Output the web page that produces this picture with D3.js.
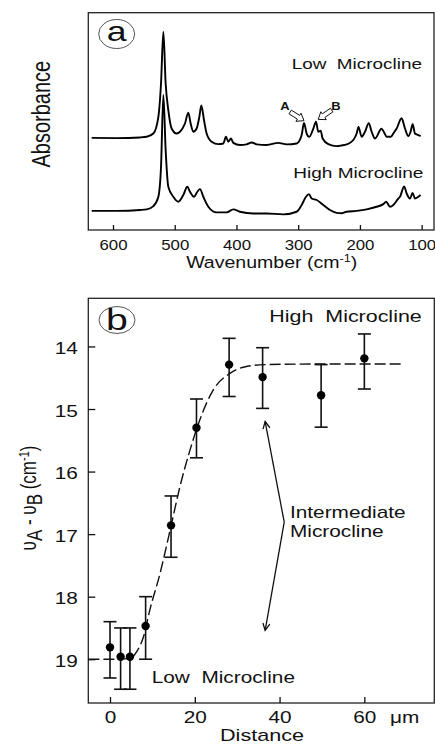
<!DOCTYPE html>
<html>
<head>
<meta charset="utf-8">
<script src="https://cdn.jsdelivr.net/npm/d3@7"></script>
<style>
  body { margin: 0; background: #fff; }
  svg { display: block; font-family: "Liberation Sans", Arial, sans-serif; }
  text { fill: #111; }
</style>
</head>
<body>
<div id="chart"></div>
<script>
// ---- data ----
// panel a: Raman spectra (wavenumber in cm-1, absorbance in arbitrary units)
var lowWn = [634.5, 594, 556, 545.4, 534.6, 526.5, 522.2, 518.4, 514.7, 510.4, 505, 496.9, 491.5, 483.4, 478, 474.2, 469.9, 464.5, 460.1, 456.9, 452.6, 448.3, 440.2, 429.4, 421.3, 417, 413.2, 408.9, 405.1, 394.3, 383.5, 375.4, 367.3, 351.1, 332.2, 318.7, 302.5, 294.4, 290.6, 286.3, 282, 275.5, 271.2, 267.4, 263.6, 260.4, 251.2, 237.7, 229.6, 221.5, 210.7, 205.3, 202.3, 197.2, 191.8, 185.6, 181, 175.6, 165, 161, 156.7, 149.7, 145.9, 140.5, 132.5, 127, 121.6, 117.9, 114.6, 110.8, 105.4, 101.7];
var lowAbs = [42.4, 42.3, 42.6, 42.9, 44.4, 52.1, 67.4, 91.2, 67.4, 55.2, 46.7, 44.4, 45.2, 49.0, 54.0, 49.0, 45.2, 46.7, 52.1, 57.3, 50.6, 44.4, 40.6, 39.5, 39.8, 42.9, 40.6, 42.1, 40.1, 39.1, 39.4, 40.3, 39.4, 39.1, 40.1, 39.4, 39.8, 43.7, 49.3, 44.4, 42.9, 46.7, 49.8, 45.2, 45.7, 42.1, 39.5, 38.6, 38.9, 39.4, 41.4, 44.4, 47.4, 42.9, 45.2, 49.2, 45.2, 42.1, 46.6, 45.0, 42.9, 42.9, 44.4, 46.7, 51.4, 46.7, 43.2, 45.2, 48.7, 44.4, 43.7, 43.2];
var highWn = [634.5, 594, 556.2, 545.4, 534.6, 526.5, 522.2, 518.4, 514.7, 510.4, 502.3, 494.2, 486.1, 479.6, 475.3, 468.8, 463.4, 459.1, 453.7, 445.6, 432.1, 415.9, 405.1, 394.3, 372.7, 351.1, 324.1, 302.5, 294.4, 287.4, 282.5, 278.2, 270.1, 259.3, 248.5, 237.7, 229.6, 221.5, 205.3, 189.1, 172.9, 162.1, 157.5, 151.3, 145.9, 137.8, 135.1, 128.4, 124.3, 118.9, 114.6, 110.8, 105.4, 101.7];
var highAbs = [8.8, 8.8, 9.2, 9.5, 11.0, 15.3, 29.1, 62.1, 36.8, 19.9, 15.3, 13.0, 16.1, 19.9, 17.6, 15.3, 17.6, 18.8, 15.3, 10.7, 8.1, 8.1, 9.5, 8.4, 7.6, 7.6, 7.2, 8.4, 11.5, 15.3, 16.5, 14.5, 13.8, 11.5, 9.2, 7.9, 7.7, 8.4, 8.8, 9.5, 10.7, 11.9, 13.0, 10.7, 11.5, 14.5, 15.3, 20.0, 16.8, 14.5, 17.1, 14.5, 15.3, 16.1];
var wnTicks = [600, 500, 400, 300, 200, 100];

// panel b: splitting of bands A and B vs distance
var distance = [0, 2.5, 4.7, 8.4, 14.4, 20.4, 28.1, 36, 49.8, 60];
var splitting = [18.81, 18.96, 18.96, 18.47, 16.86, 15.3, 14.29, 14.49, 14.78, 14.19];
var errTop = [18.4, 18.5, 18.5, 18.0, 16.39, 14.84, 13.87, 14.02, 14.29, 13.8];
var errBottom = [19.3, 19.48, 19.48, 19.0, 17.37, 15.78, 14.8, 14.99, 15.29, 14.68];
var fitX = [-5.1, 0, 4.7, 6.3, 7.9, 9.4, 11.8, 14.2, 16.5, 18.9, 21.2, 24.4, 28.3, 32.2, 36.9, 50, 69];
var fitY = [19.0, 19.0, 18.99, 18.88, 18.64, 18.21, 17.63, 16.93, 16.24, 15.65, 15.17, 14.69, 14.43, 14.32, 14.29, 14.28, 14.28];
var distTicks = [0, 20, 40, 60];
var splitTicks = [14, 15, 16, 17, 18, 19];

var svgWidth = 435;
var svgHeight = 745;

var svg = d3.select("#chart")
  .append("svg")
  .attr("width", svgWidth)
  .attr("height", svgHeight);

// text helper: the original is stretched sideways, so text gets a scale too
function label(g, x, y, str, size, anchor, sx) {
  return g.append("text")
    .attr("transform", `translate(${x},${y}) scale(${sx},1)`)
    .attr("text-anchor", anchor)
    .style("font-size", size + "px")
    .style("white-space", "pre")
    .text(str);
}

// ================= panel a =================
var a = { left: 88.3, right: 434, top: 12.7, bottom: 230 };

var xA = d3.scaleLinear().domain([640, 80]).range([a.left, a.right]);
var yA = d3.scaleLinear().domain([0, 100]).range([a.bottom, a.top]);

var gA = svg.append("g");

gA.append("rect")
  .attr("x", a.left).attr("y", a.top)
  .attr("width", a.right - a.left).attr("height", a.bottom - a.top)
  .attr("fill", "none").attr("stroke", "#222").attr("stroke-width", 1.3);

var axisA = d3.axisBottom(xA).tickValues(wnTicks).tickFormat(d3.format("d"))
  .tickSizeInner(-5).tickSizeOuter(0).tickPadding(10);
var axA = gA.append("g")
  .attr("transform", `translate(0,${a.bottom})`)
  .call(axisA);
axA.select(".domain").remove();
axA.selectAll("line").attr("stroke", "#111").attr("stroke-width", 1.3);
axA.selectAll("text")
  .attr("transform", "scale(1.2,1)")
  .style("font-size", "14px")
  .style("font-family", "'Liberation Sans', Arial, sans-serif")
  .attr("fill", "#111");

var lineA = d3.line()
  .x(d => xA(d[0]))
  .y(d => yA(d[1]))
  .curve(d3.curveMonotoneX);

gA.append("path")
  .datum(lowWn.map((w, i) => [w, lowAbs[i]]))
  .attr("d", lineA)
  .attr("fill", "none").attr("stroke", "#000").attr("stroke-width", 1.9);

gA.append("path")
  .datum(highWn.map((w, i) => [w, highAbs[i]]))
  .attr("d", lineA)
  .attr("fill", "none").attr("stroke", "#000").attr("stroke-width", 1.9);

// outlined block arrows pointing at bands A and B
function blockArrow(g, tail, tip) {
  var tx = xA(tail[0]), ty = yA(tail[1]);
  var px = xA(tip[0]), py = yA(tip[1]);
  var len = Math.hypot(px - tx, py - ty);
  var ux = (px - tx) / len, uy = (py - ty) / len;
  var nx = -uy, ny = ux;
  var hx = px - ux * 6.5, hy = py - uy * 6.5;
  var pts = [
    [tx + nx * 2.2, ty + ny * 2.2], [hx + nx * 2.2, hy + ny * 2.2], [hx + nx * 4.8, hy + ny * 4.8],
    [px, py],
    [hx - nx * 4.8, hy - ny * 4.8], [hx - nx * 2.2, hy - ny * 2.2], [tx - nx * 2.2, ty - ny * 2.2]
  ];
  g.append("polygon")
    .attr("points", pts.map(p => p.join(",")).join(" "))
    .attr("fill", "#fff").attr("stroke", "#111").attr("stroke-width", 1);
}
blockArrow(gA, [313, 54.3], [290.6, 50.3]);
blockArrow(gA, [245.8, 55.2], [267.5, 50.9]);
label(gA, xA(321.4), yA(55.2), "A", 10, "middle", 1.3).style("font-weight", "bold");
label(gA, xA(238.8), yA(55.2), "B", 10, "middle", 1.3).style("font-weight", "bold");

label(gA, 291.7, 69.3, "Low  Microcline", 14, "start", 1.35);
label(gA, 293.3, 178.3, "High Microcline", 14, "start", 1.36);

// panel letter
gA.append("ellipse")
  .attr("cx", 116.7).attr("cy", 34).attr("rx", 18).attr("ry", 14.5)
  .attr("fill", "none").attr("stroke", "#555").attr("stroke-width", 1);
label(gA, 116.7, 41, "a", 28, "middle", 1.27);

// axis titles
var wt = label(gA, 271.7, 268.3, "Wavenumber (cm", 17, "middle", 1.15);
wt.append("tspan").attr("dy", -6).style("font-size", "11px").text("-1");
wt.append("tspan").attr("dy", 6).text(")");

gA.append("text")
  .attr("transform", "translate(50,114.2) rotate(-90) scale(1,1.28)")
  .attr("text-anchor", "middle")
  .style("font-size", "20px")
  .text("Absorbance");

// ================= panel b =================
var b = { left: 88.3, right: 434.3, top: 298.3, bottom: 703 };

var xB = d3.scaleLinear().domain([-5.12, 76.5]).range([b.left, b.right]);
var yB = d3.scaleLinear().domain([13.23, 19.7]).range([b.top, b.bottom]);

var gB = svg.append("g");

gB.append("rect")
  .attr("x", b.left).attr("y", b.top)
  .attr("width", b.right - b.left).attr("height", b.bottom - b.top)
  .attr("fill", "none").attr("stroke", "#222").attr("stroke-width", 1.3);

var bottomAxis = d3.axisBottom(xB).tickValues(distTicks).tickFormat(d3.format("d"))
  .tickSizeInner(-6).tickSizeOuter(0).tickPadding(9);
var leftAxis = d3.axisLeft(yB).tickValues(splitTicks).tickFormat(d3.format("d"))
  .tickSizeInner(-7).tickSizeOuter(0).tickPadding(8);

var axBx = gB.append("g")
  .attr("transform", `translate(0,${b.bottom})`)
  .call(bottomAxis);
var axBy = gB.append("g")
  .attr("transform", `translate(${b.left},0)`)
  .call(leftAxis);

[axBx, axBy].forEach(ax => {
  ax.select(".domain").remove();
  ax.selectAll("line").attr("stroke", "#111").attr("stroke-width", 1.3);
  ax.selectAll("text")
    .attr("transform", "scale(1.3,1)")
    .style("font-size", "16px")
    .style("font-family", "'Liberation Sans', Arial, sans-serif")
    .attr("fill", "#111");
});
axBy.selectAll("text").attr("dy", "0.45em");

label(gB, 390, 723.3, "μm", 16, "start", 1.3);

// fitted dashed curve
var lineB = d3.line()
  .x(d => xB(d[0]))
  .y(d => yB(d[1]))
  .curve(d3.curveMonotoneX);

gB.append("path")
  .datum(fitX.map((x, i) => [x, fitY[i]]))
  .attr("d", lineB)
  .attr("fill", "none").attr("stroke", "#111").attr("stroke-width", 1.4)
  .attr("stroke-dasharray", "11,4");

// error bars
var bars = gB.selectAll(".err")
  .data(distance)
  .enter()
  .append("g")
  .attr("class", "err");

bars.append("line")
  .attr("x1", d => xB(d)).attr("x2", d => xB(d))
  .attr("y1", (d, i) => yB(errTop[i])).attr("y2", (d, i) => yB(errBottom[i]))
  .attr("stroke", "#111").attr("stroke-width", 1.6);
bars.append("line")
  .attr("x1", d => xB(d) - 6.5).attr("x2", d => xB(d) + 6.5)
  .attr("y1", (d, i) => yB(errTop[i])).attr("y2", (d, i) => yB(errTop[i]))
  .attr("stroke", "#111").attr("stroke-width", 1.6);
bars.append("line")
  .attr("x1", d => xB(d) - 6.5).attr("x2", d => xB(d) + 6.5)
  .attr("y1", (d, i) => yB(errBottom[i])).attr("y2", (d, i) => yB(errBottom[i]))
  .attr("stroke", "#111").attr("stroke-width", 1.6);

gB.selectAll(".dot")
  .data(distance)
  .enter()
  .append("circle")
  .attr("class", "dot")
  .attr("cx", d => xB(d))
  .attr("cy", (d, i) => yB(splitting[i]))
  .attr("r", 4.2)
  .attr("fill", "#000");

// annotation arrows for the intermediate region
var defs = svg.append("defs");
defs.append("marker")
  .attr("id", "vhead")
  .attr("viewBox", "-8 -5 10 10")
  .attr("refX", 0).attr("refY", 0)
  .attr("markerWidth", 10).attr("markerHeight", 10)
  .attr("markerUnits", "userSpaceOnUse")
  .attr("orient", "auto")
  .append("path")
  .attr("d", "M-7,-3.5L0,0L-7,3.5")
  .attr("fill", "none").attr("stroke", "#111").attr("stroke-width", 1.3);

var vertex = [41.1, 16.81];
[[36.6, 15.2], [36.6, 18.54]].forEach(tip => {
  gB.append("line")
    .attr("x1", xB(vertex[0])).attr("y1", yB(vertex[1]))
    .attr("x2", xB(tip[0])).attr("y2", yB(tip[1]))
    .attr("stroke", "#111").attr("stroke-width", 1.3)
    .attr("marker-end", "url(#vhead)");
});

label(gB, 290, 518.3, "Intermediate", 16, "start", 1.3);
label(gB, 290, 536.7, "Microcline", 16, "start", 1.3);
label(gB, 269.3, 321.7, "High  Microcline", 16, "start", 1.34);
label(gB, 151.7, 682.7, "Low  Microcline", 16, "start", 1.3);

gB.append("ellipse")
  .attr("cx", 117).attr("cy", 320).attr("rx", 18).attr("ry", 13.5)
  .attr("fill", "none").attr("stroke", "#555").attr("stroke-width", 1);
label(gB, 117, 330, "b", 29, "middle", 1.35);

label(gB, 262, 741, "Distance", 16, "middle", 1.35);

var yt = gB.append("text")
  .attr("transform", "translate(36,498) rotate(-90) scale(1,1.25)")
  .attr("text-anchor", "middle")
  .style("font-size", "17px");
yt.append("tspan").text("υ");
yt.append("tspan").attr("dy", 5).text("A");
yt.append("tspan").attr("dy", -5).text(" - υ");
yt.append("tspan").attr("dy", 5).text("B");
yt.append("tspan").attr("dy", -5).text(" (cm");
yt.append("tspan").attr("dy", -6).style("font-size", "11px").text("-1");
yt.append("tspan").attr("dy", 6).text(")");
</script>
</body>
</html>
